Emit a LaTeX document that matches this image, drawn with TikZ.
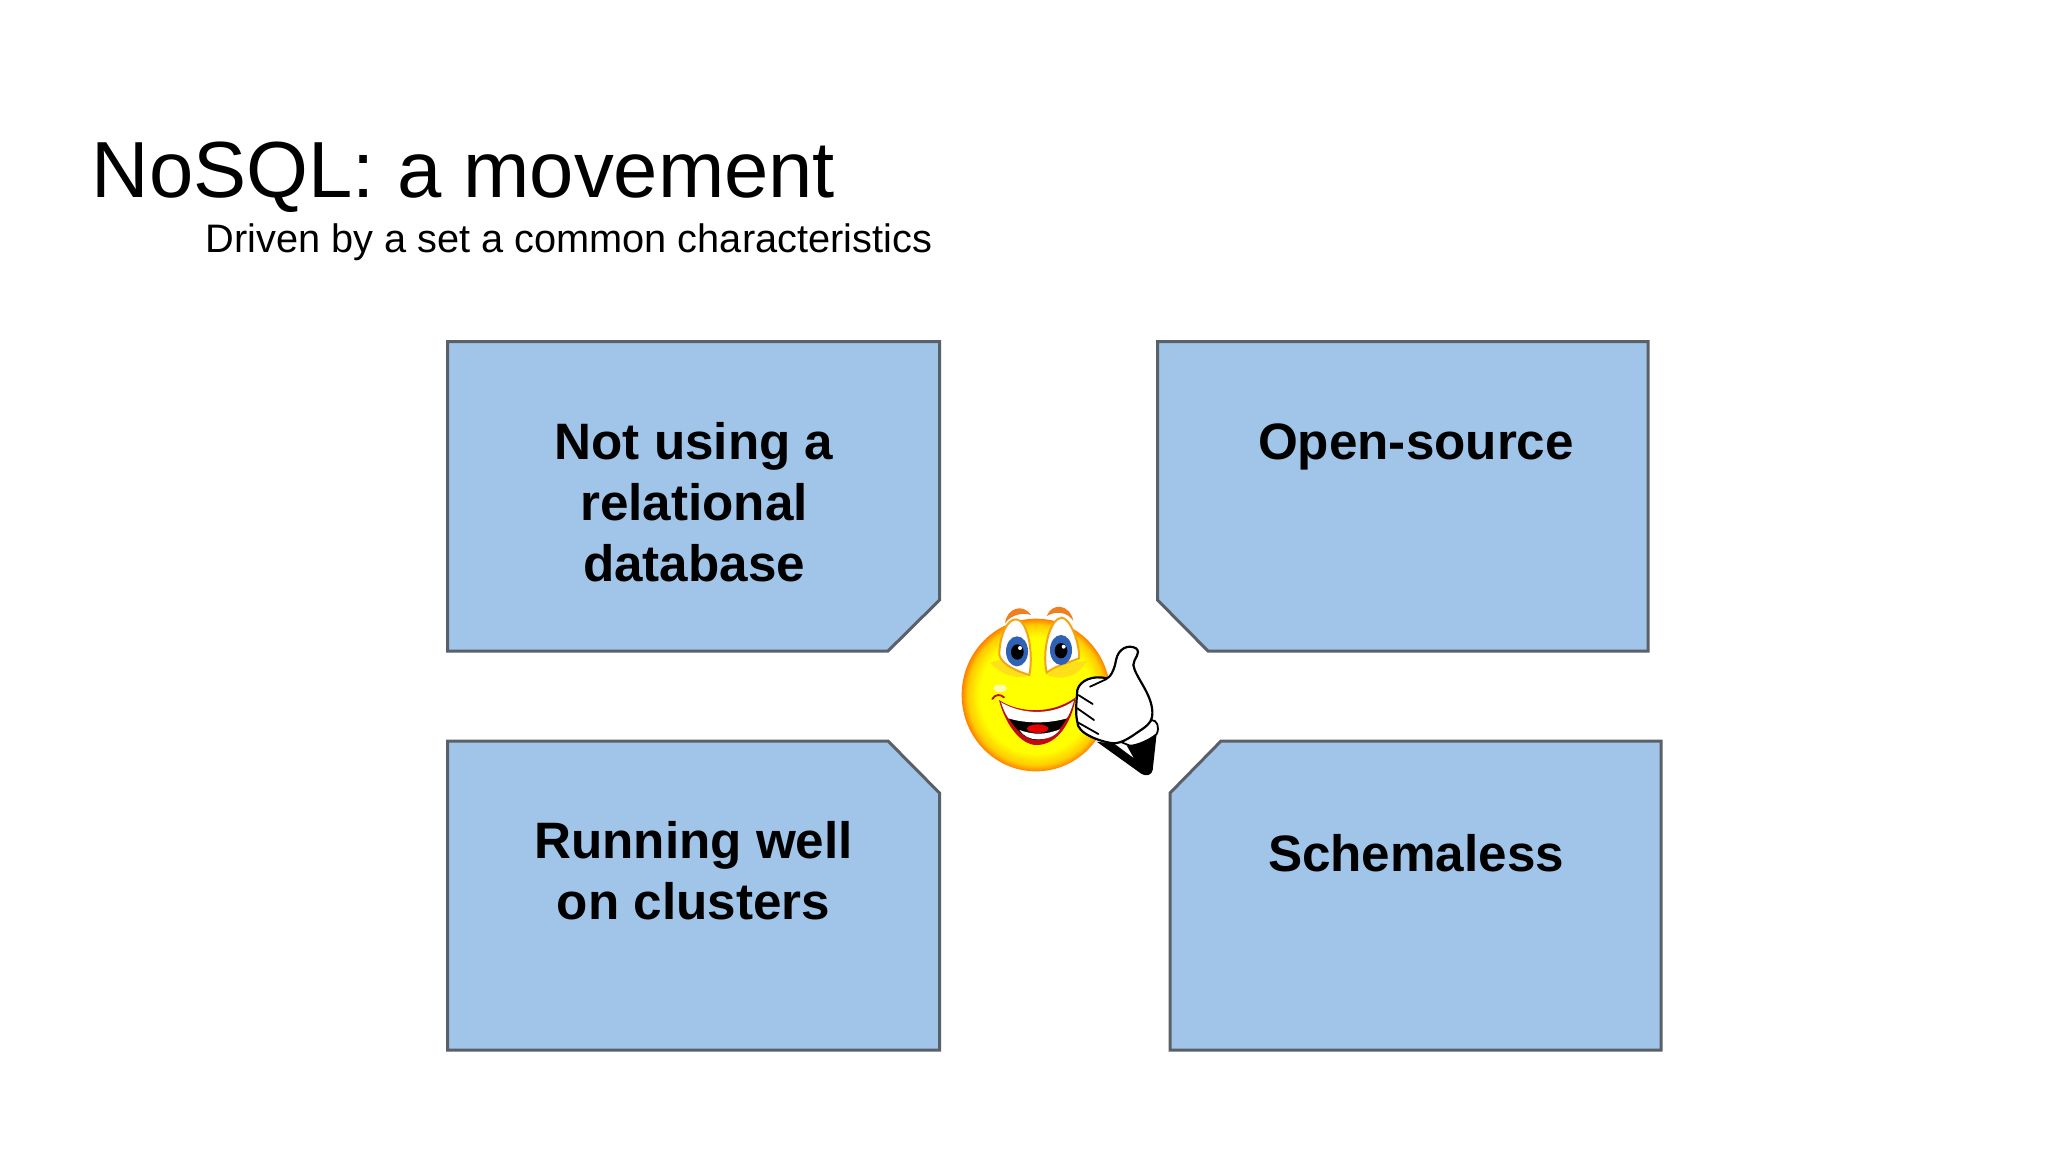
\documentclass[tikz,border=0pt]{standalone}
\usepackage{fontspec}
\setmainfont{Liberation Sans}
\definecolor{boxfill}{HTML}{A0C5E8}
\definecolor{boxedge}{HTML}{5A6068}
\definecolor{broworange}{HTML}{F07F1E}
\definecolor{irisblue}{HTML}{2F62B4}
\definecolor{lipred}{HTML}{C00A10}
\pgfdeclareradialshading{faceglow}{\pgfpoint{0bp}{0bp}}{color(0bp)=(yellow); color(19bp)=(yellow); color(23bp)=(yellow!60!orange); color(25bp)=(orange); color(50bp)=(orange)}
\tikzset{
    box/.style={draw=boxedge, fill=boxfill, line width=1.5pt, line join=miter},
    boxtext/.style={anchor=base, align=center, font=\fontsize{25.6}{30.5}\selectfont\bfseries},
    fingerline/.style={black, line width=0.9pt, line cap=round},
}
\begin{document}
\begin{tikzpicture}[x=0.5pt, y=-0.5pt]
    \useasboundingbox (0, 0) rectangle (2048, 1152);

    \node[anchor=base west, inner sep=0pt, font=\fontsize{39.8}{44}\selectfont] (title) at (91.5, 197) {NoSQL: a movement};
    \node[anchor=base west, inner sep=0pt, font=\fontsize{19.87}{23}\selectfont] (subtitle) at (205, 252) {Driven by a set a common characteristics};

    \draw[box] (447.5, 341.5) -- (939.5, 341.5) -- (939.5, 600) -- (888, 651) -- (447.5, 651) -- cycle;
    \draw[box] (1157.5, 341.5) -- (1648, 341.5) -- (1648, 651) -- (1208, 651) -- (1157.5, 600) -- cycle;
    \draw[box] (447.5, 741) -- (888, 741) -- (939.5, 793) -- (939.5, 1050) -- (447.5, 1050) -- cycle;
    \draw[box] (1221, 741) -- (1661, 741) -- (1661, 1050) -- (1170, 1050) -- (1170, 793) -- cycle;

    \node[boxtext] (relational) at (694, 581.5) {Not using a\\relational\\database};
    \node[boxtext] (opensource) at (1416, 459) {Open-source};
    \node[boxtext] (clusters) at (693.5, 919.5) {Running well\\on clusters};
    \node[boxtext] (schemaless) at (1416, 871) {Schemaless};

    \begin{scope}[shift={(930, 580)}, x=0.16667pt, y=-0.16667pt]
        % face
        \shade[shading=faceglow] (318, 345) ellipse [x radius=223, y radius=229];
        \fill[orange!70, opacity=0.35] (180, 248) .. controls (220, 290) and (270, 300) .. (300, 285) -- (210, 240) -- cycle;
        \fill[orange!70, opacity=0.35] (350, 285) .. controls (400, 305) and (450, 285) .. (470, 243) -- (400, 250) -- cycle;
        \fill[white, opacity=0.7] (210, 325) ellipse [x radius=20, y radius=11];
        % eyes
        \filldraw[fill=white, draw=broworange!70!yellow, line width=1pt] (208, 225) .. controls (208, 170) and (230, 118) .. (258, 118)
            .. controls (290, 118) and (312, 210) .. (298, 285) .. controls (265, 275) and (215, 255) .. (208, 225) -- cycle;
        \filldraw[fill=white, draw=broworange!70!yellow, line width=1pt] (350, 278) .. controls (335, 210) and (360, 115) .. (395, 113)
            .. controls (420, 113) and (450, 190) .. (447, 235) .. controls (425, 245) and (380, 255) .. (350, 278) -- cycle;
        \fill[irisblue] (261, 214) ellipse [x radius=33, y radius=45];
        \fill[irisblue] (393, 210) ellipse [x radius=33, y radius=45];
        \fill[black] (262, 216) ellipse [x radius=19, y radius=23];
        \fill[black] (393, 212) ellipse [x radius=19, y radius=23];
        \fill[white] (270, 204) circle [radius=6];
        \fill[white] (401, 200) circle [radius=6];
        % brows
        \fill[broworange] (225, 130) .. controls (230, 85) and (278, 68) .. (303, 105) .. controls (285, 98) and (245, 100) .. (225, 130) -- cycle;
        \fill[broworange] (350, 108) .. controls (365, 68) and (418, 70) .. (430, 122) .. controls (410, 95) and (378, 92) .. (350, 108) -- cycle;
        % mouth
        \draw[lipred, line width=0.9pt, line cap=round] (187, 357) .. controls (195, 342) and (212, 342) .. (222, 352);
        \fill[lipred] (207, 360) .. controls (270, 402) and (370, 402) .. (437, 352) .. controls (425, 430) and (380, 495) .. (320, 495)
            .. controls (270, 495) and (225, 430) .. (207, 360) -- cycle;
        \fill[black] (222, 385) .. controls (290, 410) and (360, 410) .. (425, 380) .. controls (410, 430) and (370, 480) .. (320, 480)
            .. controls (280, 480) and (240, 430) .. (222, 385) -- cycle;
        \fill[white] (213, 367) .. controls (280, 406) and (370, 406) .. (432, 362) .. controls (425, 385) and (418, 405) .. (410, 415)
            .. controls (360, 430) and (290, 432) .. (235, 415) .. controls (225, 400) and (218, 382) .. (213, 367) -- cycle;
        \fill[white] (268, 450) .. controls (310, 465) and (345, 465) .. (390, 448) .. controls (375, 470) and (350, 478) .. (322, 478)
            .. controls (300, 478) and (280, 468) .. (268, 450) -- cycle;
        \fill[red!90!black] (323, 446) ellipse [x radius=32, y radius=13];
        % sleeve and cuff
        \fill[black] (500, 485) -- (635, 582) .. controls (650, 590) and (665, 585) .. (668, 570) -- (680, 460) -- (600, 497) -- cycle;
        \fill[white] (552, 490) -- (610, 533) -- (585, 488) -- cycle;
        \filldraw[fill=white, draw=black, line width=0.9pt] (575, 487) -- (665, 420) .. controls (680, 420) and (690, 440) .. (680, 462)
            .. controls (660, 480) and (620, 497) .. (600, 497) -- cycle;
        % hand
        \filldraw[fill=white, draw=black, line width=1.1pt] (442, 330) .. controls (450, 300) and (490, 285) .. (530, 295)
            .. controls (545, 290) and (555, 260) .. (558, 240) .. controls (565, 205) and (595, 192) .. (618, 205)
            .. controls (635, 220) and (610, 235) .. (610, 255) .. controls (615, 290) and (665, 340) .. (667, 395)
            .. controls (668, 420) and (660, 430) .. (640, 445) .. controls (610, 465) and (580, 490) .. (550, 490)
            .. controls (510, 485) and (440, 460) .. (442, 425) .. controls (435, 400) and (440, 360) .. (442, 330) -- cycle;
        \draw[fingerline] (445, 345) -- (488, 372);
        \draw[fingerline] (442, 385) -- (492, 420);
        \draw[fingerline] (445, 428) -- (505, 462);
        \draw[fingerline] (480, 320) -- (530, 297);
    \end{scope}
\end{tikzpicture}
\end{document}
